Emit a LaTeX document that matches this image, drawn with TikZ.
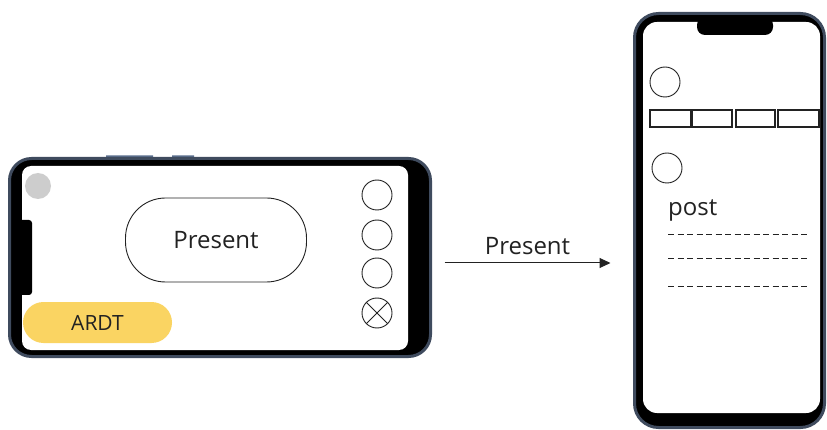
\documentclass[tikz,border=0pt]{standalone}
\usepackage{fontspec}
\setmainfont{Open Sans}
\usetikzlibrary{arrows.meta,positioning}
\definecolor{rimgray}{HTML}{3F4B5E}
\definecolor{keyblue}{HTML}{5B6F8E}
\definecolor{ardtyellow}{HTML}{FAD462}
\definecolor{dotgray}{HTML}{CDCDCD}
\definecolor{inkdark}{HTML}{222222}
\begin{document}
\begin{tikzpicture}[
  x=1pt,
  y=-1pt,
  phone/.style={draw=rimgray, line width=3pt, fill=black, rounded corners=22pt, inner sep=0pt},
  icon/.style={draw=inkdark, circle, minimum size=30pt, inner sep=0pt, line width=0.9pt},
  tab/.style={draw=inkdark, line width=1.2pt, minimum height=17pt, inner sep=0pt},
  textlabel/.style={text=inkdark, font=\fontsize{24}{28}\selectfont, inner sep=0pt}
]
\useasboundingbox (0,0) rectangle (827,430);
% landscape phone
\fill[keyblue] (106,155.5) rectangle (153,158.5) (172,155.5) rectangle (194,158.5);
\node[phone, minimum width=421pt, minimum height=198pt] (land) at (220,257.5) {};
\fill[white, rounded corners=9pt] (22,166) rectangle (408,350);
\fill[black, rounded corners=3pt] (18,220) rectangle (32,295);
\node[circle, fill=dotgray, minimum size=26pt, inner sep=0pt] (dot) at (38,186) {};
\node[textlabel, draw=inkdark, line width=0.9pt, rounded corners=40pt,
  minimum width=181pt, minimum height=84pt] (present) at (216,240) {Present};
\node[icon] (menu1) at (377,195) {};
\node[icon] (menu2) at (377,235) {};
\node[icon] (menu3) at (377,273) {};
\node[icon] (close) at (377,313) {};
\draw[inkdark, line width=0.9pt] (close.45) -- (close.225) (close.135) -- (close.-45);
\node[fill=ardtyellow, rounded corners=20.5pt, minimum width=149pt, minimum height=41pt,
  text=inkdark, font=\fontsize{21}{24}\selectfont] (ardt) at (97.5,322.5) {ARDT};
% portrait phone
\node[phone, rounded corners=24pt, minimum width=190pt, minimum height=414pt] (port) at (729.5,220.5) {};
\fill[white, rounded corners=14pt] (643,22) rectangle (820,413);
\fill[black, rounded corners=8pt] (697,17) rectangle (773,35);
\node[icon] (avatar) at (665,82) {};
\foreach \cx/\w [count=\i] in {670.5/41, 712/40, 755.5/39, 798.5/41}
  \node[tab, minimum width=\w pt] (tab\i) at (\cx,118.5) {};
\node[icon] (author) at (667,168) {};
\node[textlabel, anchor=base west] (post) at (668,216) {post};
\foreach \ly in {235,259,287}
  \draw[inkdark, line width=1pt, dash pattern=on 6pt off 3.5pt] (668,\ly) -- (808,\ly);
% transition
\draw[-{Triangle[length=11pt,width=10pt]}, line width=1pt, inkdark]
  ([xshift=12.5pt,yshift=-5.5pt]land.east) -- ([xshift=-22.5pt,yshift=-42.5pt]port.west)
  node[midway, above=8pt, textlabel] (go) {Present};
\end{tikzpicture}
\end{document}
